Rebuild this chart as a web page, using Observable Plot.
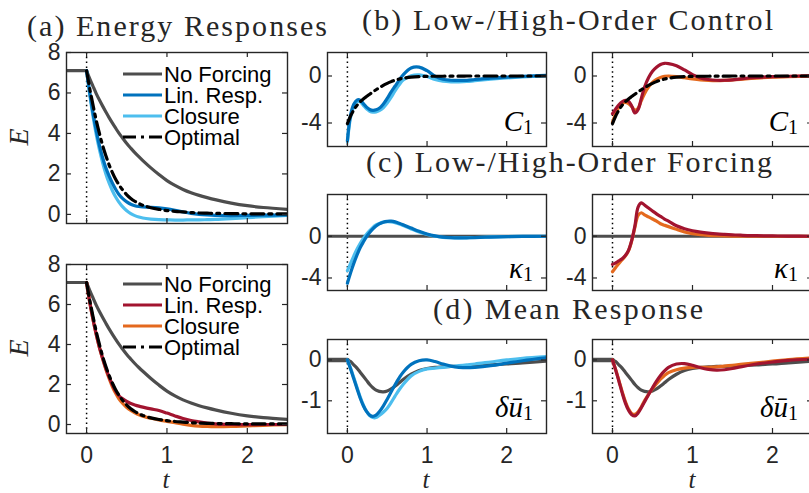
<!DOCTYPE html>
<html><head><meta charset="utf-8">
<script src="https://cdn.jsdelivr.net/npm/d3@7"></script>
<script src="https://cdn.jsdelivr.net/npm/@observablehq/plot@0.6"></script>
<style>
html,body{margin:0;padding:0;background:#fff;overflow:hidden}
#root{position:relative;width:809px;height:493px;overflow:hidden;background:#fff}
#root svg{position:absolute}
</style></head>
<body><div id="root"></div>
<script>
// ---------- data ----------
const tGrid = [0,0.04,0.08,0.12,0.16,0.2,0.24,0.28,0.32,0.36,0.4,0.45,0.5,0.55,0.6,0.65,0.7,0.8,0.9,1.0,1.1,1.2,1.3,1.4,1.5,1.6,1.8,2.0,2.2,2.5];
const tPre = [-0.25, 0];
const tFull = [-0.25, 2.5];
const timeTicks = [0, 1, 2];
const zeroTime = [0];

const energyTicks = [0, 2, 4, 6, 8];
const controlTicks = [-4, 0];
const forcingTicks = [-4, 0];
const meanTicks = [-1, 0];

const legendLabels = ["No Forcing", "Lin. Resp.", "Closure", "Optimal"];
const panelTitles = ["(a) Energy Responses", "(b) Low-/High-Order Control", "(c) Low-/High-Order Forcing", "(d) Mean Response"];

const energyPre = [7.1, 7.1];
const energyNoForcing = [7.1,6.7,6.33,5.97,5.65,5.35,5.06,4.78,4.52,4.27,4.03,3.76,3.5,3.27,3.05,2.85,2.66,2.3,1.97,1.67,1.43,1.23,1.07,0.94,0.83,0.73,0.56,0.43,0.34,0.25];
const energyLinRespLow = [7.1,6.0,5.0,4.15,3.4,2.8,2.3,1.9,1.55,1.25,1.0,0.78,0.62,0.5,0.43,0.39,0.37,0.35,0.32,0.27,0.2,0.12,0.05,0.0,-0.03,-0.05,-0.06,-0.05,-0.04,-0.02];
const energyClosureLow = [7.1,5.9,4.85,3.95,3.2,2.55,2.0,1.55,1.18,0.87,0.62,0.37,0.18,0.04,-0.06,-0.13,-0.18,-0.23,-0.26,-0.27,-0.28,-0.28,-0.27,-0.27,-0.26,-0.25,-0.21,-0.16,-0.11,-0.05];
const energyOptimal = [7.1,6.2,5.4,4.65,4.0,3.4,2.9,2.45,2.08,1.75,1.48,1.2,0.97,0.79,0.65,0.54,0.45,0.33,0.25,0.19,0.15,0.12,0.09,0.07,0.06,0.05,0.04,0.03,0.03,0.03];
const energyLinRespHigh = [7.1,6.1,5.25,4.5,3.85,3.3,2.8,2.38,2.0,1.68,1.45,1.28,1.15,1.05,0.98,0.92,0.87,0.78,0.7,0.57,0.43,0.3,0.2,0.13,0.07,0.03,0.0,-0.01,0.0,0.0];
const energyClosureHigh = [7.1,6.1,5.25,4.5,3.85,3.28,2.75,2.3,1.9,1.57,1.3,1.05,0.85,0.7,0.58,0.49,0.42,0.31,0.23,0.16,0.09,0.02,-0.04,-0.08,-0.1,-0.11,-0.1,-0.07,-0.04,-0.01];

const controlLinRespLow = [-5.5,-3.3,-2.4,-2.05,-2.05,-2.35,-2.65,-2.85,-2.92,-2.88,-2.75,-2.4,-1.9,-1.35,-0.85,-0.35,0.1,0.68,0.75,0.45,-0.02,-0.28,-0.36,-0.38,-0.37,-0.3,-0.18,-0.1,-0.03,0.05];
const controlClosureLow = [-5.6,-3.5,-2.6,-2.2,-2.2,-2.5,-2.8,-3.0,-3.08,-3.05,-2.95,-2.7,-2.3,-1.8,-1.25,-0.75,-0.35,0.02,0.1,-0.05,-0.3,-0.45,-0.5,-0.5,-0.47,-0.4,-0.27,-0.16,-0.08,0.0];
const controlOptimal = [-4.05,-3.4,-2.9,-2.5,-2.2,-1.95,-1.75,-1.55,-1.35,-1.17,-1.0,-0.8,-0.63,-0.48,-0.35,-0.26,-0.19,-0.1,-0.05,-0.03,-0.02,-0.02,-0.01,-0.01,0,0,0,0,0,0];
const controlLinRespHigh = [-3.2,-2.8,-2.45,-2.2,-2.08,-2.15,-2.55,-3.15,-2.85,-1.9,-0.95,-0.15,0.4,0.75,0.98,1.08,1.06,0.88,0.52,0.12,-0.16,-0.3,-0.36,-0.36,-0.33,-0.25,-0.13,-0.06,-0.02,0.02];
const controlClosureHigh = [-3.95,-3.2,-2.65,-2.35,-2.25,-2.35,-2.6,-2.9,-2.75,-2.1,-1.5,-0.95,-0.55,-0.28,-0.12,-0.03,0.0,-0.05,-0.15,-0.25,-0.33,-0.38,-0.4,-0.38,-0.33,-0.28,-0.18,-0.1,-0.05,0.0];

const forcingNone = [0, 0];
const forcingLinRespLow = [-4.5,-3.5,-2.6,-1.8,-1.1,-0.55,-0.05,0.35,0.7,0.98,1.18,1.35,1.43,1.44,1.38,1.25,1.1,0.78,0.47,0.22,0.04,-0.08,-0.14,-0.16,-0.15,-0.13,-0.08,-0.04,-0.02,0.0];
const forcingClosureLow = [-3.3,-2.6,-1.9,-1.25,-0.7,-0.2,0.2,0.55,0.85,1.08,1.23,1.35,1.4,1.38,1.3,1.17,1.02,0.7,0.4,0.17,0.0,-0.1,-0.14,-0.15,-0.14,-0.12,-0.07,-0.03,-0.01,0.0];
const forcingLinRespHigh = [-2.7,-2.55,-2.35,-2.15,-1.85,-1.35,-0.4,1.0,2.8,3.2,3.0,2.7,2.42,2.15,1.9,1.65,1.45,1.0,0.72,0.53,0.4,0.3,0.22,0.17,0.13,0.1,0.05,0.03,0.01,0.0];
const forcingClosureHigh = [-3.4,-3.0,-2.6,-2.25,-1.9,-1.4,-0.45,0.85,2.0,2.25,2.05,1.85,1.65,1.45,1.2,1.05,0.92,0.66,0.4,0.25,0.15,0.09,0.05,0.03,0.02,0.01,0.0,0.0,0.0,0.0];

const meanPre = [0, 0];
const meanNoForcing = [0,-0.04,-0.12,-0.2,-0.3,-0.4,-0.5,-0.6,-0.68,-0.74,-0.77,-0.78,-0.76,-0.71,-0.64,-0.56,-0.48,-0.35,-0.26,-0.21,-0.18,-0.17,-0.16,-0.16,-0.15,-0.14,-0.12,-0.1,-0.07,-0.03];
const meanLinRespLow = [0,-0.22,-0.46,-0.7,-0.93,-1.12,-1.26,-1.35,-1.38,-1.35,-1.27,-1.13,-0.96,-0.78,-0.6,-0.44,-0.3,-0.11,-0.02,0.0,-0.04,-0.1,-0.15,-0.18,-0.19,-0.18,-0.14,-0.08,-0.02,0.05];
const meanClosureLow = [0,-0.2,-0.43,-0.67,-0.9,-1.1,-1.26,-1.36,-1.41,-1.41,-1.36,-1.28,-1.18,-1.04,-0.88,-0.73,-0.6,-0.39,-0.28,-0.22,-0.2,-0.18,-0.16,-0.14,-0.12,-0.1,-0.05,0.0,0.04,0.08];
const meanLinRespHigh = [0,-0.25,-0.52,-0.8,-1.05,-1.23,-1.34,-1.37,-1.3,-1.17,-1.03,-0.85,-0.68,-0.52,-0.38,-0.27,-0.18,-0.1,-0.09,-0.13,-0.19,-0.23,-0.25,-0.24,-0.21,-0.17,-0.1,-0.05,-0.01,0.02];
const meanClosureHigh = [0,-0.24,-0.5,-0.77,-1.01,-1.2,-1.31,-1.33,-1.27,-1.15,-1.0,-0.84,-0.7,-0.58,-0.47,-0.38,-0.31,-0.24,-0.2,-0.18,-0.18,-0.18,-0.17,-0.15,-0.13,-0.11,-0.07,-0.03,0.01,0.05];

// ---------- styles ----------
const COL = {gray: "#4d4d4d", blue: "#0072BD", lblue: "#4DBEEE", red: "#A2142F", orange: "#E4691E", black: "#000000"};
const DASHDOT = "13,5,3,5";
const AXC = "#262626";
const tDomain = [-0.25, 2.5];
const root = document.getElementById("root");

function panel({x0, x1, y0, y1, yDomain, yTicks, showX, lines}) {
  const ml = 62, mr = 4, mt = 4, mb = 42;
  const W = x1 - x0, H = y1 - y0;
  const tk = {stroke: AXC, strokeWidth: 1.2};
  const marks = [
    Plot.ruleX(zeroTime, {x: d => d, stroke: "#000", strokeWidth: 1.5, strokeDasharray: "1.5,3.3"}),
    ...lines.map(s => Plot.line(s.y, {x: s.x, y: s.y, stroke: s.color, strokeWidth: s.w || 3.2, strokeDasharray: s.dash, curve: "catmull-rom", clip: true})),
    Plot.tickY(yTicks, {y: d => d, ...tk, insetRight: W - 5}),
    Plot.tickY(yTicks, {y: d => d, ...tk, insetLeft: W - 5}),
    Plot.tickX(timeTicks, {x: d => d, ...tk, insetTop: H - 5}),
    Plot.tickX(timeTicks, {x: d => d, ...tk, insetBottom: H - 5}),
    Plot.frame({stroke: AXC, strokeWidth: 1.4}),
    Plot.axisY({ticks: yTicks, tickSize: 0, tickPadding: 6, tickFormat: d => String(d), label: null})
  ];
  if (showX) marks.push(Plot.axisX({ticks: timeTicks, tickSize: 0, tickPadding: 13, tickFormat: d => String(d), label: null}));
  const svg = Plot.plot({
    width: W + ml + mr, height: H + mt + mb,
    marginLeft: ml, marginRight: mr, marginTop: mt, marginBottom: mb,
    x: showX ? {domain: tDomain} : {domain: tDomain, axis: null},
    y: {domain: yDomain},
    style: {background: "transparent", fontFamily: "Liberation Sans, Arial, sans-serif", fontSize: "23px", color: AXC, overflow: "visible"},
    marks
  });
  svg.style.left = (x0 - ml) + "px";
  svg.style.top = (y0 - mt) + "px";
  root.append(svg);
}

const colL = [66, 287], colM = [327, 546], colR = [592, 812];
const rowB = [52, 146], rowC = [194, 290], rowD = [339, 433];

// (a) top
panel({x0: colL[0], x1: colL[1], y0: 52, y1: 223, yDomain: [-0.45, 8], yTicks: energyTicks, showX: false, lines: [
  {x: tPre, y: energyPre, color: COL.gray},
  {x: tGrid, y: energyNoForcing, color: COL.gray},
  {x: tGrid, y: energyClosureLow, color: COL.lblue},
  {x: tGrid, y: energyLinRespLow, color: COL.blue},
  {x: tGrid, y: energyOptimal, color: COL.black, dash: DASHDOT}
]});
// (a) bottom
panel({x0: colL[0], x1: colL[1], y0: 264, y1: 433, yDomain: [-0.45, 8], yTicks: energyTicks, showX: true, lines: [
  {x: tPre, y: energyPre, color: COL.gray},
  {x: tGrid, y: energyNoForcing, color: COL.gray},
  {x: tGrid, y: energyClosureHigh, color: COL.orange},
  {x: tGrid, y: energyLinRespHigh, color: COL.red},
  {x: tGrid, y: energyOptimal, color: COL.black, dash: DASHDOT}
]});
// (b)
panel({x0: colM[0], x1: colM[1], y0: rowB[0], y1: rowB[1], yDomain: [-6, 2], yTicks: controlTicks, showX: false, lines: [
  {x: tGrid, y: controlClosureLow, color: COL.lblue},
  {x: tGrid, y: controlLinRespLow, color: COL.blue},
  {x: tGrid, y: controlOptimal, color: COL.black, dash: DASHDOT}
]});
panel({x0: colR[0], x1: colR[1], y0: rowB[0], y1: rowB[1], yDomain: [-6, 2], yTicks: controlTicks, showX: false, lines: [
  {x: tGrid, y: controlClosureHigh, color: COL.orange},
  {x: tGrid, y: controlLinRespHigh, color: COL.red},
  {x: tGrid, y: controlOptimal, color: COL.black, dash: DASHDOT}
]});
// (c)
panel({x0: colM[0], x1: colM[1], y0: rowC[0], y1: rowC[1], yDomain: [-5.2, 4], yTicks: forcingTicks, showX: false, lines: [
  {x: tFull, y: forcingNone, color: COL.gray},
  {x: tGrid, y: forcingClosureLow, color: COL.lblue},
  {x: tGrid, y: forcingLinRespLow, color: COL.blue}
]});
panel({x0: colR[0], x1: colR[1], y0: rowC[0], y1: rowC[1], yDomain: [-5.2, 4], yTicks: forcingTicks, showX: false, lines: [
  {x: tFull, y: forcingNone, color: COL.gray},
  {x: tGrid, y: forcingClosureHigh, color: COL.orange},
  {x: tGrid, y: forcingLinRespHigh, color: COL.red}
]});
// (d)
panel({x0: colM[0], x1: colM[1], y0: rowD[0], y1: rowD[1], yDomain: [-1.8, 0.5], yTicks: meanTicks, showX: true, lines: [
  {x: tPre, y: meanPre, color: COL.gray, w: 4.5},
  {x: tGrid, y: meanNoForcing, color: COL.gray},
  {x: tGrid, y: meanClosureLow, color: COL.lblue},
  {x: tGrid, y: meanLinRespLow, color: COL.blue}
]});
panel({x0: colR[0], x1: colR[1], y0: rowD[0], y1: rowD[1], yDomain: [-1.8, 0.5], yTicks: meanTicks, showX: true, lines: [
  {x: tPre, y: meanPre, color: COL.gray, w: 4.5},
  {x: tGrid, y: meanNoForcing, color: COL.gray},
  {x: tGrid, y: meanClosureHigh, color: COL.orange},
  {x: tGrid, y: meanLinRespHigh, color: COL.red}
]});

// ---------- text overlay ----------
const ov = d3.create("svg").attr("width", 809).attr("height", 493).style("left", "0px").style("top", "0px").style("overflow", "visible");
const serif = "Liberation Serif, Times New Roman, serif";
const sans = "Liberation Sans, Arial, sans-serif";
const titlePos = [[27, 36, 300], [362, 30, 411], [366, 172, 406], [433, 319, 270]];
panelTitles.forEach((t, i) => {
  const [x, y, len] = titlePos[i];
  ov.append("text").attr("x", x).attr("y", y).attr("font-family", serif).attr("font-size", 30)
    .attr("fill", "#262626").attr("textLength", len).attr("lengthAdjust", "spacing").text(t);
});
// legends
function legend(rows, colors) {
  const dashes = [null, null, null, DASHDOT];
  legendLabels.forEach((lab, i) => {
    ov.append("line").attr("x1", 123).attr("x2", 162).attr("y1", rows[i]).attr("y2", rows[i])
      .attr("stroke", colors[i]).attr("stroke-width", 3.2).attr("stroke-dasharray", dashes[i]);
    ov.append("text").attr("x", 164).attr("y", rows[i] + 8).attr("font-family", sans).attr("font-size", 22)
      .attr("fill", "#000").text(lab);
  });
}
legend([74, 95, 116, 137], [COL.gray, COL.blue, COL.lblue, COL.black]);
legend([284, 305, 326, 347], [COL.gray, COL.red, COL.orange, COL.black]);
// axis labels
[137, 348].forEach(cy => {
  ov.append("text").attr("transform", `translate(28,${cy}) rotate(-90)`).attr("text-anchor", "middle")
    .attr("font-family", serif).attr("font-style", "italic").attr("font-size", 28).attr("fill", "#262626").text("E");
});
[166, 426, 692].forEach(cx => {
  ov.append("text").attr("x", cx).attr("y", 488).attr("text-anchor", "middle")
    .attr("font-family", serif).attr("font-style", "italic").attr("font-size", 25).attr("fill", "#262626").text("t");
});
// panel labels
function plabel(xr, yb, main) {
  const t = ov.append("text").attr("x", xr).attr("y", yb).attr("text-anchor", "end")
    .attr("font-family", serif).attr("font-size", 29).attr("fill", "#000");
  t.append("tspan").attr("font-style", "italic").text(main);
  t.append("tspan").attr("font-size", 20).attr("dy", 3).text("1");
}
[533, 798].forEach(xr => {
  plabel(xr, 131, "C");
  plabel(xr, 278, "κ");
  plabel(xr, 417, "δū");
});
root.append(ov.node());
</script>
</body></html>
